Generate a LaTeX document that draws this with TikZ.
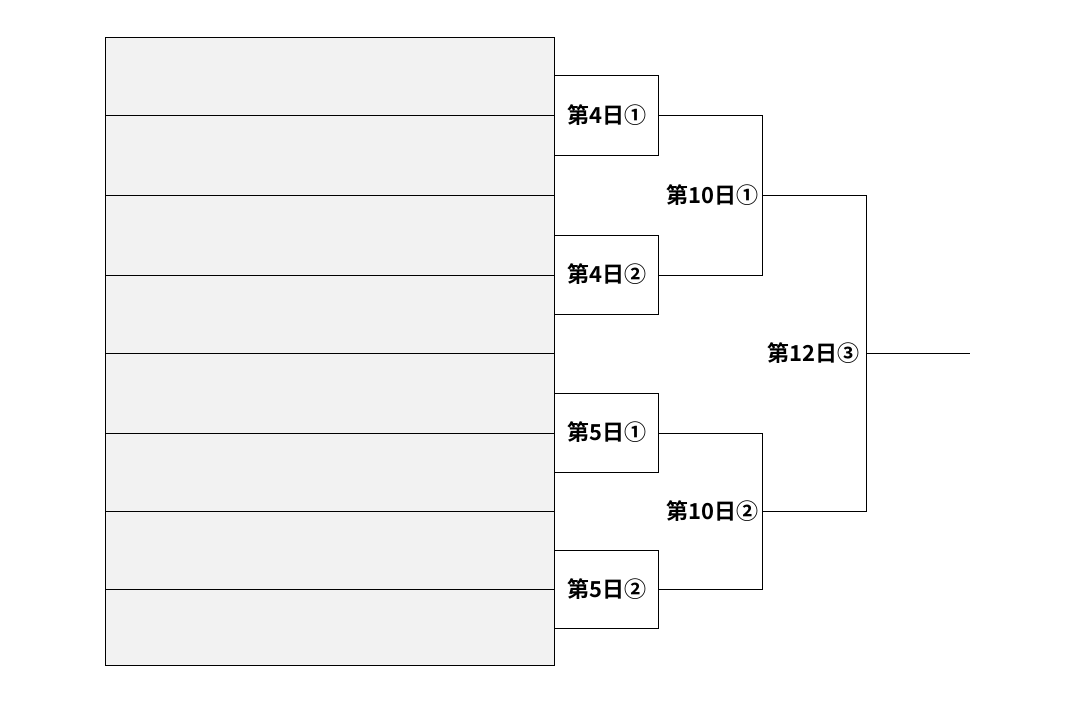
\documentclass[tikz,border=0pt]{standalone}
\usepackage{fontspec}
\newfontfamily\cjk{Noto Sans CJK JP}[BoldFont={Noto Sans CJK JP Bold}]
\begin{document}
\begin{tikzpicture}[x=1pt,y=-1pt,
  lab/.style={font=\cjk\bfseries\fontsize{22}{24}\selectfont,inner sep=1pt},
  ln/.style={draw=black,line width=0.8pt}]
\useasboundingbox (0,0) rectangle (1075,702);
\fill[white] (0,0) rectangle (1075,702);
\draw[ln,fill=black!5] (105,37) rectangle (554,665);
\foreach \y in {115,195,275,353,433,511,589} \draw[ln] (105,\y) -- (554,\y);
\foreach \a/\b/\t/\n in {75/155/第4日①/a,235/314/第4日②/b,393/472/第5日①/c,550/628/第5日②/d}{
  \draw[ln,fill=white] (554,\a) rectangle (658,\b);
  \node[lab] (\n) at (607,{(\a+\b)/2}) {\t};
}
\coordinate (a1) at (658,115); \coordinate (b1) at (658,275);
\coordinate (c1) at (658,433); \coordinate (d1) at (658,589);
\draw[ln] (a1) -- (762,115) -- (762,275) -- (b1);
\draw[ln] (c1) -- (762,433) -- (762,589) -- (d1);
\node[lab,anchor=east] (e) at (760,195) {第10日①};
\node[lab,anchor=east] (f) at (760,511) {第10日②};
\node[lab,anchor=east] (g) at (861,353) {第12日③};
\coordinate (e1) at (762,195); \coordinate (f1) at (762,511);
\draw[ln] (e1) -- (866,195) -- (866,511) -- (f1);
\coordinate (w) at (970,353);
\draw[ln] (866,353) -- (w);
\end{tikzpicture}
\end{document}
